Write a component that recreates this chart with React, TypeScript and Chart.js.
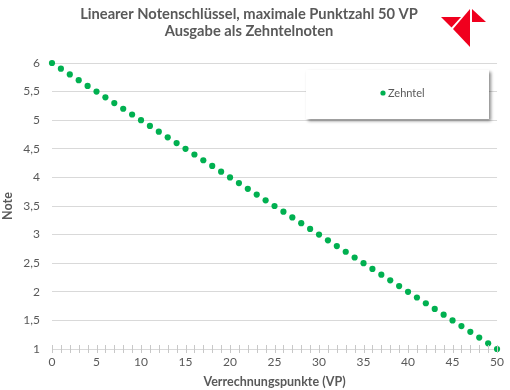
import React, { useEffect, useRef } from "react";
import { Chart, registerables } from "chart.js";

Chart.register(...registerables);

const TITLE_LINES = ["Linearer Notenschlüssel, maximale Punktzahl 50 VP", "Ausgabe als Zehntelnoten"];
const SERIES_NAME = "Zehntel";
const X_TITLE = "Verrechnungspunkte (VP)";
const Y_TITLE = "Note";

const POINTS_VP = [
  0, 1, 2, 3, 4, 5, 6, 7, 8, 9, 10, 11, 12, 13, 14, 15, 16, 17, 18, 19, 20, 21, 22, 23, 24, 25,
  26, 27, 28, 29, 30, 31, 32, 33, 34, 35, 36, 37, 38, 39, 40, 41, 42, 43, 44, 45, 46, 47, 48, 49, 50,
];
const NOTES = [
  6.0, 5.9, 5.8, 5.7, 5.6, 5.5, 5.4, 5.3, 5.2, 5.1, 5.0, 4.9, 4.8, 4.7, 4.6, 4.5, 4.4, 4.3, 4.2, 4.1,
  4.0, 3.9, 3.8, 3.7, 3.6, 3.5, 3.4, 3.3, 3.2, 3.1, 3.0, 2.9, 2.8, 2.7, 2.6, 2.5, 2.4, 2.3, 2.2, 2.1,
  2.0, 1.9, 1.8, 1.7, 1.6, 1.5, 1.4, 1.3, 1.2, 1.1, 1.0,
];
const X_MIN = 0;
const X_MAX = 50;
const X_STEP = 5;
const Y_MIN = 1;
const Y_MAX = 6;
const Y_STEP = 0.5;

const FONT = "Lato, 'Open Sans', sans-serif";
const TEXT = "#595959";
const GRID = "#d9d9d9";
const GREEN = "#00b050";

const decorPlugin = {
  id: "decor",
  afterDraw(chart: any) {
    const ctx = chart.ctx;
    const x = chart.scales.x;
    const area = chart.chartArea;

    // title
    ctx.save();
    ctx.fillStyle = TEXT;
    ctx.font = "bold 14.7px " + FONT;
    ctx.textAlign = "center";
    ctx.textBaseline = "middle";
    ctx.fillText(TITLE_LINES[0], 249, 14);
    ctx.fillText(TITLE_LINES[1], 249, 31.5);
    ctx.restore();

    // minor tick marks across the x axis
    ctx.save();
    ctx.strokeStyle = "#c8c8c8";
    ctx.lineWidth = 1;
    for (let v = X_MIN; v <= X_MAX; v += 1) {
      const px = Math.round(x.getPixelForValue(v)) + 0.5;
      ctx.beginPath();
      ctx.moveTo(px, area.bottom - 4);
      ctx.lineTo(px, area.bottom + 4);
      ctx.stroke();
    }
    ctx.restore();

    // legend box
    ctx.save();
    const bx = 306, by = 70, bw = 183, bh = 49;
    ctx.shadowColor = "rgba(0,0,0,0.45)";
    ctx.shadowBlur = 3;
    ctx.shadowOffsetX = 2;
    ctx.shadowOffsetY = 2;
    ctx.fillStyle = "#ffffff";
    ctx.fillRect(bx, by, bw, bh);
    ctx.shadowColor = "transparent";
    ctx.fillStyle = GREEN;
    ctx.beginPath();
    ctx.arc(383, 93, 2.6, 0, Math.PI * 2);
    ctx.fill();
    ctx.fillStyle = TEXT;
    ctx.font = "11px " + FONT;
    ctx.textBaseline = "middle";
    ctx.textAlign = "left";
    ctx.fillText(SERIES_NAME, 388, 93);
    ctx.restore();

    // logo
    ctx.save();
    ctx.fillStyle = "#f0001e";
    ctx.beginPath();
    ctx.moveTo(441, 17);
    ctx.lineTo(461, 17);
    ctx.lineTo(451.5, 27.5);
    ctx.closePath();
    ctx.fill();
    ctx.beginPath();
    ctx.moveTo(453, 29);
    ctx.lineTo(470, 9);
    ctx.lineTo(470, 47);
    ctx.closePath();
    ctx.fill();
    ctx.beginPath();
    ctx.moveTo(472, 9);
    ctx.lineTo(486, 22);
    ctx.lineTo(472, 22);
    ctx.closePath();
    ctx.fill();
    ctx.restore();
  },
};

export default function App() {
  const ref = useRef<HTMLCanvasElement | null>(null);

  useEffect(() => {
    if (!ref.current) return;
    const data = POINTS_VP.map((v, i) => ({ x: v, y: NOTES[i] }));
    const chart = new Chart(ref.current, {
      type: "scatter",
      data: {
        datasets: [
          {
            label: SERIES_NAME,
            data,
            backgroundColor: GREEN,
            borderColor: GREEN,
            pointRadius: 3.1,
            pointBorderWidth: 0,
            clip: false,
          },
        ],
      },
      options: {
        animation: false,
        responsive: false,
        devicePixelRatio: 1,
        layout: { padding: { left: 0, right: 12, top: 63, bottom: 0 } },
        plugins: {
          legend: { display: false },
          tooltip: { enabled: false },
          title: { display: false },
        },
        scales: {
          x: {
            type: "linear",
            min: X_MIN,
            max: X_MAX,
            afterFit: (s: any) => {
              s.height = 41;
            },
            ticks: {
              stepSize: X_STEP,
              color: TEXT,
              font: { family: FONT, size: 12 },
              padding: 6,
              maxRotation: 0,
            },
            grid: { display: false, drawTicks: false },
            border: { display: false },
            title: {
              display: true,
              text: X_TITLE,
              color: TEXT,
              font: { family: FONT, size: 12.5, weight: "bold" },
              padding: { top: 0, bottom: 1 },
            },
          },
          y: {
            type: "linear",
            min: Y_MIN,
            max: Y_MAX,
            afterFit: (s: any) => {
              s.width = 52;
            },
            ticks: {
              stepSize: Y_STEP,
              color: TEXT,
              font: { family: FONT, size: 12 },
              padding: 12,
              callback: (v: any) => String(v).replace(".", ","),
            },
            grid: { color: GRID, drawTicks: false, lineWidth: 1 },
            border: { display: false },
            title: {
              display: true,
              text: Y_TITLE,
              color: TEXT,
              font: { family: FONT, size: 12.5, weight: "bold" },
              padding: { top: 0, bottom: 7 },
            },
          },
        },
      },
      plugins: [decorPlugin],
    });
    return () => chart.destroy();
  }, []);

  return (
    <div style={{ position: "fixed", left: 0, top: 0, width: 510, height: 390, background: "#fff" }}>
      <canvas ref={ref} width={510} height={390} style={{ display: "block", width: 510, height: 390 }} />
    </div>
  );
}
